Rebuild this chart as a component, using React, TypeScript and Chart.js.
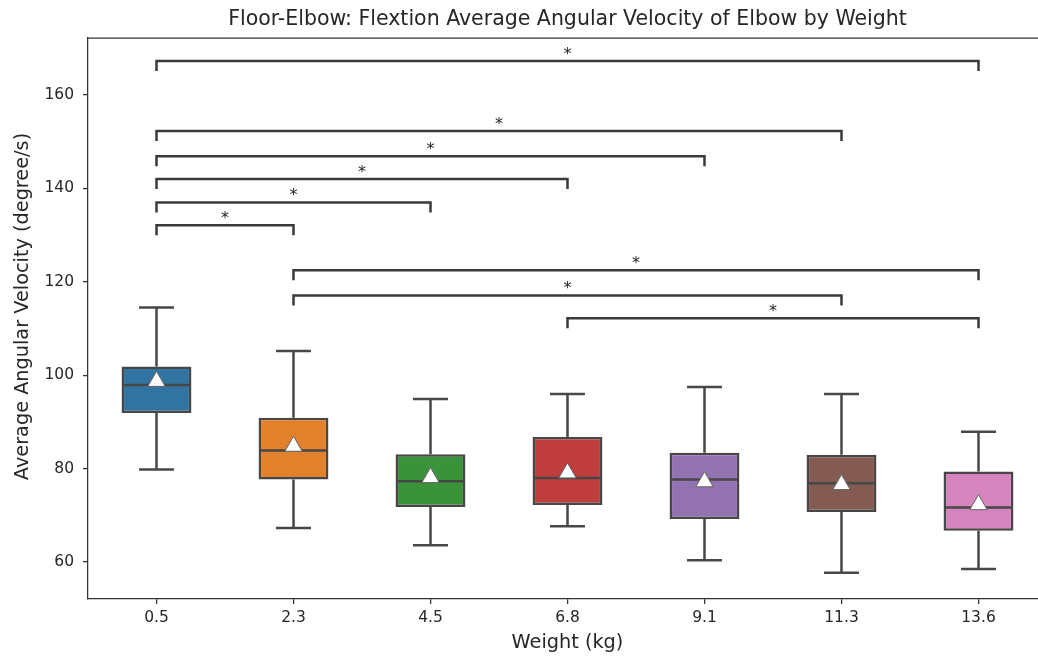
import React, { useEffect, useRef } from 'react';
import { Chart, registerables } from 'chart.js';
Chart.register(...registerables);

const categories = ['0.5', '2.3', '4.5', '6.8', '9.1', '11.3', '13.6'];
const whiskerLow = [79.8, 67.3, 63.6, 67.7, 60.4, 57.7, 58.5];
const q1 = [91.9, 77.7, 71.8, 72.2, 69.2, 70.7, 66.7];
const medians = [97.9, 83.9, 77.3, 78.0, 77.7, 76.9, 71.7];
const q3 = [101.9, 90.9, 83.1, 86.8, 83.4, 83.0, 79.4];
const whiskerHigh = [114.5, 105.2, 94.9, 96.0, 97.5, 96.0, 87.9];
const means = [98.7, 84.8, 78.1, 79.1, 77.2, 76.6, 72.3];
const boxColors = ['#3274a1', '#e1812c', '#3a923a', '#c03d3e', '#9372b2', '#845b53', '#d684bd'];
const yTicks = [60, 80, 100, 120, 140, 160];
const bracketFrom = [0, 0, 0, 0, 0, 0, 1, 1, 3];
const bracketTo = [6, 5, 4, 3, 2, 1, 6, 5, 6];
const bracketY = [167.3, 152.3, 146.9, 142.0, 137.0, 132.1, 122.5, 117.1, 112.2];
const bracketLabels = ['*', '*', '*', '*', '*', '*', '*', '*', '*'];
const titleText = 'Floor-Elbow: Flextion Average Angular Velocity of Elbow by Weight';
const xTitle = 'Weight (kg)';
const yTitle = 'Average Angular Velocity (degree/s)';

const FONT = "'DejaVu Sans', sans-serif";
const LINE = '#474747';
const TEXT = '#262626';

const boxPlugin = {
  id: 'boxExtras',
  beforeDatasetsDraw(chart: any) {
    const ctx = chart.ctx;
    const ys = chart.scales.y;
    const meta = chart.getDatasetMeta(0);
    ctx.save();
    ctx.strokeStyle = LINE;
    ctx.lineWidth = 2.5;
    meta.data.forEach((bar: any, i: number) => {
      const x = bar.x;
      const capHalf = bar.width / 4;
      const yl = ys.getPixelForValue(whiskerLow[i]);
      const yq1 = ys.getPixelForValue(q1[i]);
      const yq3 = ys.getPixelForValue(q3[i]);
      const yh = ys.getPixelForValue(whiskerHigh[i]);
      ctx.beginPath();
      ctx.moveTo(x, yq1);
      ctx.lineTo(x, yl);
      ctx.moveTo(x - capHalf, yl);
      ctx.lineTo(x + capHalf, yl);
      ctx.moveTo(x, yq3);
      ctx.lineTo(x, yh);
      ctx.moveTo(x - capHalf, yh);
      ctx.lineTo(x + capHalf, yh);
      ctx.stroke();
    });
    ctx.restore();
  },
  afterDatasetDraw(chart: any, args: any) {
    if (args.index !== 0) return;
    const ctx = chart.ctx;
    const ys = chart.scales.y;
    const meta = chart.getDatasetMeta(0);
    ctx.save();
    ctx.strokeStyle = LINE;
    ctx.lineWidth = 2.5;
    meta.data.forEach((bar: any, i: number) => {
      const y = ys.getPixelForValue(medians[i]);
      ctx.beginPath();
      ctx.moveTo(bar.x - bar.width / 2 + 1, y);
      ctx.lineTo(bar.x + bar.width / 2 - 1, y);
      ctx.stroke();
    });
    ctx.restore();
  },
  afterDraw(chart: any) {
    const ctx = chart.ctx;
    const xs = chart.scales.x;
    const ys = chart.scales.y;
    const area = chart.chartArea;
    ctx.save();
    // top spine
    ctx.strokeStyle = '#333';
    ctx.lineWidth = 1.25;
    ctx.beginPath();
    ctx.moveTo(area.left, area.top);
    ctx.lineTo(area.right, area.top);
    ctx.stroke();
    // titles
    ctx.fillStyle = TEXT;
    ctx.textAlign = 'center';
    ctx.textBaseline = 'middle';
    const cx = (area.left + area.right) / 2;
    ctx.font = `20.5px ${FONT}`;
    ctx.fillText(titleText, cx, 20);
    ctx.font = `19.3px ${FONT}`;
    ctx.fillText(xTitle, cx, 643);
    ctx.save();
    ctx.translate(23, 306.5);
    ctx.rotate(-Math.PI / 2);
    ctx.fillText(yTitle, 0, 0);
    ctx.restore();
    // significance brackets
    ctx.strokeStyle = '#3a3a3a';
    ctx.lineWidth = 2.5;
    ctx.lineJoin = 'miter';
    ctx.fillStyle = TEXT;
    ctx.font = `16px ${FONT}`;
    ctx.textAlign = 'center';
    ctx.textBaseline = 'alphabetic';
    bracketY.forEach((v, i) => {
      const x1 = xs.getPixelForValue(bracketFrom[i]);
      const x2 = xs.getPixelForValue(bracketTo[i]);
      const y = ys.getPixelForValue(v);
      ctx.beginPath();
      ctx.moveTo(x1, y + 10);
      ctx.lineTo(x1, y);
      ctx.lineTo(x2, y);
      ctx.lineTo(x2, y + 10);
      ctx.stroke();
      ctx.fillText(bracketLabels[i], (x1 + x2) / 2, y - 2);
    });
    ctx.restore();
  },
};

export default function App() {
  const ref = useRef<HTMLCanvasElement | null>(null);
  useEffect(() => {
    if (!ref.current) return;
    Chart.defaults.font.family = FONT;
    Chart.defaults.color = TEXT;
    const chart = new Chart(ref.current, {
      type: 'bar',
      data: {
        labels: categories,
        datasets: [
          {
            type: 'bar',
            data: q1.map((v, i) => [v, q3[i]]) as any,
            backgroundColor: boxColors,
            borderColor: LINE,
            borderWidth: 2.5,
            borderSkipped: false,
            barPercentage: 0.51,
            categoryPercentage: 1.0,
            order: 2,
          } as any,
          {
            type: 'line',
            data: means,
            showLine: false,
            pointStyle: 'triangle',
            pointRadius: 10,
            pointBackgroundColor: '#ffffff',
            pointBorderColor: '#666666',
            pointBorderWidth: 1,
            order: 1,
          } as any,
        ],
      },
      options: {
        responsive: false,
        animation: false,
        devicePixelRatio: 1,
        layout: { padding: { left: 0, right: 13, top: 38, bottom: 0 } },
        plugins: {
          legend: { display: false },
          tooltip: { enabled: false },
          title: { display: false },
        },
        scales: {
          x: {
            type: 'category',
            offset: true,
            grid: { display: true, drawOnChartArea: false, offset: false, tickLength: 5, color: '#333', lineWidth: 1.25 },
            border: { display: true, color: '#333', width: 1.25 },
            ticks: { font: { size: 15.5, family: FONT }, color: TEXT, padding: 5, maxRotation: 0 },
            afterFit: (s: any) => { s.height = 61; },
          },
          y: {
            type: 'linear',
            min: 52.1,
            max: 172.2,
            afterBuildTicks: (s: any) => { s.ticks = yTicks.map((v) => ({ value: v })); },
            grid: { display: true, drawOnChartArea: false, tickLength: 5, color: '#333', lineWidth: 1.25 },
            border: { display: true, color: '#333', width: 1.25 },
            ticks: { font: { size: 15.5, family: FONT }, color: TEXT, padding: 9 },
            afterFit: (s: any) => { s.width = 88; },
          },
        },
      },
      plugins: [boxPlugin],
    });
    return () => chart.destroy();
  }, []);
  return (
    <div style={{ position: 'fixed', left: 0, top: 0, width: 1060, height: 660, background: '#fff', overflow: 'hidden' }}>
      <canvas ref={ref} width={1060} height={660} style={{ display: 'block' }} />
    </div>
  );
}
